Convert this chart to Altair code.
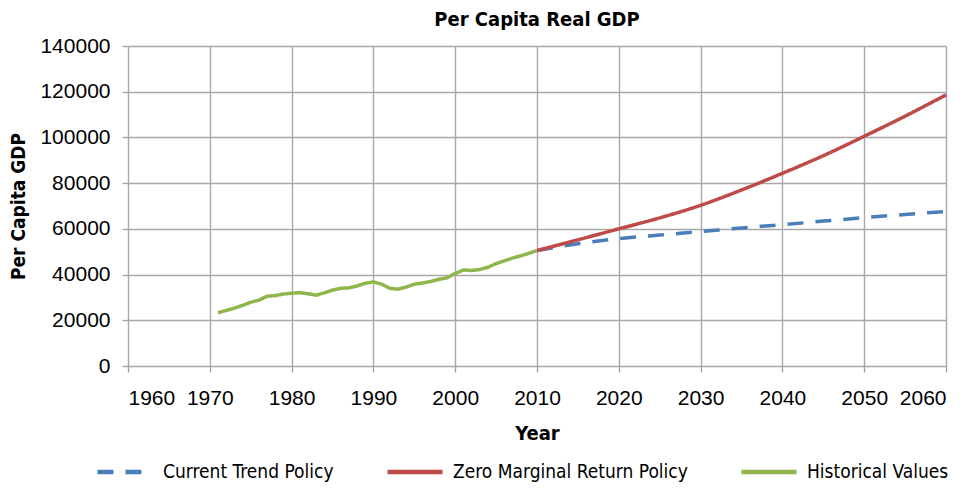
import altair as alt
import pandas as pd

# Historical per capita real GDP
hist_years = list(range(1971, 2011))
hist_values = [23300, 24300, 25300, 26500, 27900, 28800, 30500, 30800, 31500, 31800,
               32100, 31600, 31000, 32000, 33200, 34000, 34200, 35000, 36200, 36800,
               35800, 34000, 33600, 34500, 35800, 36300, 37000, 37900, 38600, 40500,
               42000, 41800, 42200, 43200, 44800, 46000, 47200, 48200, 49300, 50500]

proj_years = [2010, 2015, 2020, 2025, 2030, 2035, 2040, 2045, 2050, 2055, 2060]
trend_values = [50500, 53500, 55700, 57300, 58800, 60400, 61800, 63400, 64900, 66300, 67600]
zero_values = [50500, 55200, 60000, 64800, 70300, 77000, 84300, 92000, 100500, 109300, 118600]

series_names = ["Current Trend Policy", "Zero Marginal Return Policy", "Historical Values"]
series_colors = ["#4a7ebb", "#be4b48", "#8fb54c"]

x_ticks = list(range(1960, 2061, 10))
y_ticks = list(range(0, 140001, 20000))

rows = []
for y, v in zip(proj_years, trend_values):
    rows.append({"Year": y, "GDP": v, "Series": series_names[0]})
for y, v in zip(proj_years, zero_values):
    rows.append({"Year": y, "GDP": v, "Series": series_names[1]})
for y, v in zip(hist_years, hist_values):
    rows.append({"Year": y, "GDP": v, "Series": series_names[2]})
df = pd.DataFrame(rows)

COND = "Liberation Sans Narrow, DejaVu Sans Condensed, sans-serif"
REG = "Liberation Sans, Arial, sans-serif"

x_enc = alt.X("Year:Q", scale=alt.Scale(domain=[1960, 2060], nice=False),
              axis=alt.Axis(values=x_ticks, format="d", title="Year", labelFont=REG,
                            labelFontSize=21, labelColor="#000", labelPadding=15,
                            tickSize=6, tickColor="#a0a0a0", tickWidth=1.3,
                            titleFont=COND, titleFontSize=20, titleFontWeight="bold",
                            titleColor="#000", titlePadding=15, domain=False,
                            gridColor="#a8a8a8", gridWidth=1.4))
y_enc = alt.Y("GDP:Q", scale=alt.Scale(domain=[0, 140000], nice=False),
              axis=alt.Axis(values=y_ticks, format="d", title="Per Capita GDP", labelFont=REG,
                            labelFontSize=21, labelColor="#000", labelPadding=12,
                            tickSize=6, tickColor="#a0a0a0", tickWidth=1.3,
                            titleFont=COND, titleFontSize=19, titleFontWeight="bold",
                            titleColor="#000", titlePadding=11, domain=False,
                            gridColor="#a8a8a8", gridWidth=1.4))
color_enc = alt.Color("Series:N", scale=alt.Scale(domain=series_names, range=series_colors),
                      legend=alt.Legend(title=None, orient="none", direction="horizontal",
                                        legendX=-33, legendY=396, symbolType="stroke",
                                        symbolSize=3025, symbolStrokeWidth=4.5,
                                        labelFont=COND, labelFontSize=19, labelColor="#000",
                                        labelLimit=400, labelOffset=8, columnPadding=44,
                                        padding=0))
dash_enc = alt.StrokeDash("Series:N", scale=alt.Scale(domain=series_names,
                                                      range=[[16, 12], [1, 0], [1, 0]]),
                          legend=None)

base = alt.Chart(df).encode(x=x_enc, y=y_enc, color=color_enc, strokeDash=dash_enc)

layers = []
for name in series_names:
    interp = "linear" if name == "Historical Values" else "monotone"
    layers.append(base.transform_filter(alt.datum.Series == name)
                  .mark_line(strokeWidth=3.5, interpolate=interp))

chart = alt.layer(*layers).properties(
    width=818, height=320,
    title=alt.TitleParams("Per Capita Real GDP", font=COND, fontSize=20, fontWeight="bold",
                          color="#000", offset=5, anchor="middle"),
    autosize=alt.AutoSizeParams(type="none"),
    padding={"left": 120, "top": 38, "right": 23, "bottom": 117},
).configure_view(stroke=None).configure(background="white")

chart.save("out.html", embed_options={"renderer": "svg", "actions": False})
